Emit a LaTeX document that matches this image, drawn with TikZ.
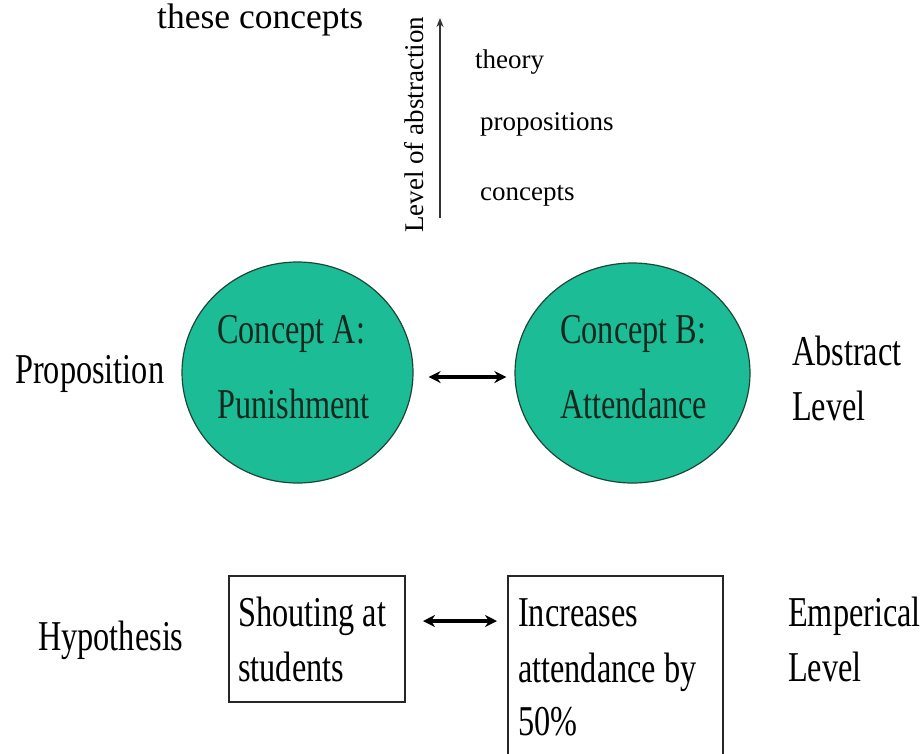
\documentclass[tikz,border=0pt]{standalone}
\usepackage{fontspec}
\setmainfont{Liberation Serif}
\newfontfamily\condfont{Liberation Serif}[FakeStretch=0.76]
\usetikzlibrary{shapes.geometric,arrows.meta}
\definecolor{conceptfill}{RGB}{28,189,150}
\definecolor{conceptline}{RGB}{30,70,55}
\definecolor{concepttext}{RGB}{20,40,30}
\tikzset{
  big/.style={inner sep=0pt, anchor=base west, font=\condfont\fontsize{42.5}{50}\selectfont},
  small/.style={inner sep=0pt, anchor=base west, font=\fontsize{27}{32}\selectfont},
  concept/.style={ellipse, draw=conceptline, line width=1.2pt, fill=conceptfill, inner sep=0pt},
  hbox/.style={rectangle, draw=black!85, line width=2pt, inner sep=0pt},
  dbl/.style={{Stealth[length=12pt,width=12pt]}-{Stealth[length=12pt,width=12pt]}, line width=3.6pt},
}
\begin{document}
\begin{tikzpicture}[x=1pt,y=-1pt]
\useasboundingbox (0,0) rectangle (923,753);
\clip (0,0) rectangle (923,753);
% top
\node[inner sep=0pt, anchor=base west, font=\fontsize{35.5}{40}\selectfont] (these) at (157,28) {these concepts};
\node[small, rotate=90] (level) at (423,233) {Level of abstraction};
\coordinate (arrbot) at (440,218);
\coordinate (arrtop) at (440,18);
\draw[-{Stealth[length=9pt,width=7pt]}, line width=2pt, black!80] (arrbot) -- (arrtop);
\node[small] (theory) at (475,68) {theory};
\node[small] (props) at (480,130) {propositions};
\node[small] (concs) at (480,200) {concepts};
% circles
\node[concept, minimum width=231pt, minimum height=221pt] (cA) at (297.5,372.5) {};
\node[concept, minimum width=235pt, minimum height=220pt] (cB) at (632.5,373) {};
\node[big, text=concepttext] (cAt1) at (217,343) {Concept A:};
\node[big, text=concepttext] (cAt2) at (217,418) {Punishment};
\node[big, text=concepttext] (cBt1) at (560,343) {Concept B:};
\node[big, text=concepttext] (cBt2) at (560,418) {Attendance};
\draw[dbl, shorten <=15pt, shorten >=8pt] ([yshift=-4.5pt]cA.east) -- ([yshift=-4pt]cB.west);
\node[big] (prop) at (15,383) {Proposition};
\node[big] (abs1) at (792,365) {Abstract};
\node[big] (abs2) at (792,420) {Level};
% boxes
\node[hbox, minimum width=176pt, minimum height=126pt] (b1) at (317,639) {};
\node[hbox, minimum width=215pt, minimum height=184pt] (b2) at (615.5,668) {};
\node[big] (b1t1) at (238,626) {Shouting at};
\node[big] (b1t2) at (238,681) {students};
\node[big] (b2t1) at (518,626) {Increases};
\node[big] (b2t2) at (518,682) {attendance by};
\node[big] (b2t3) at (518,735) {50\%};
\draw[dbl, shorten <=17pt, shorten >=10pt] ([yshift=18pt]b1.east) -- ([yshift=47pt]b2.west);
\node[big] (hyp) at (38,650) {Hypothesis};
\node[big] (emp1) at (788,626) {Emperical};
\node[big] (emp2) at (788,681) {Level};
\end{tikzpicture}
\end{document}
